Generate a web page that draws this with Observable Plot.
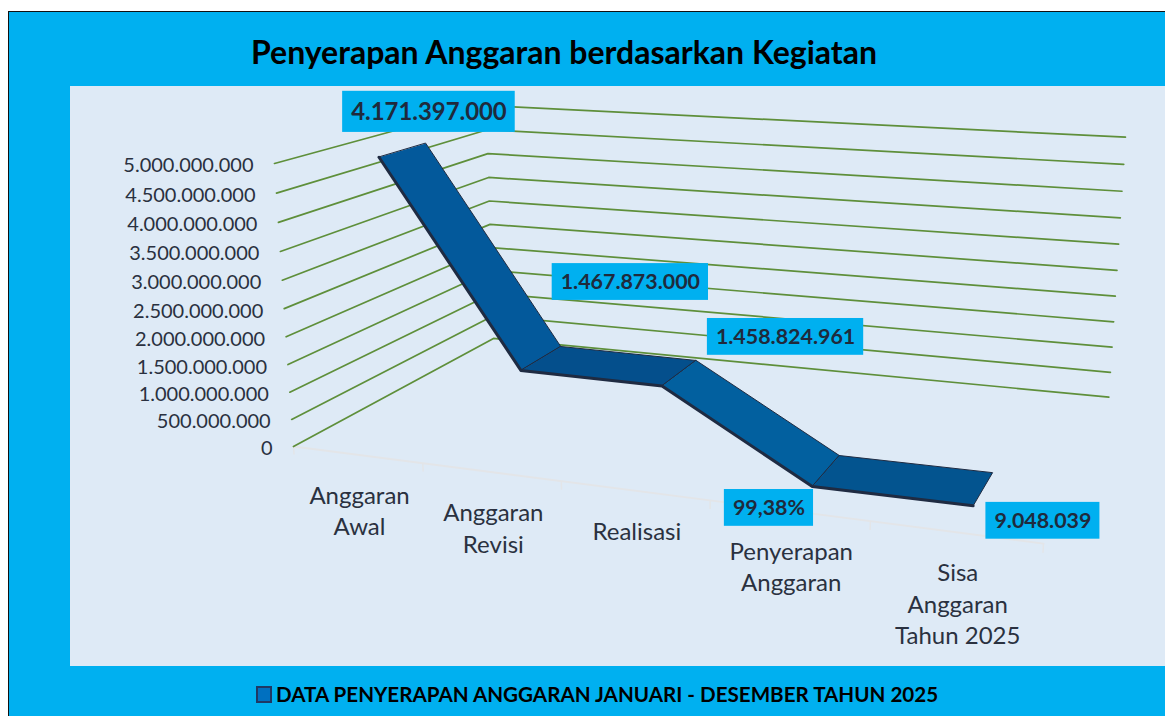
<!DOCTYPE html>
<html><head><meta charset="utf-8">
<script src="https://cdn.jsdelivr.net/npm/d3@7"></script>
<script src="https://cdn.jsdelivr.net/npm/@observablehq/plot@0.6"></script>
<style>
html,body{margin:0;padding:0;background:#fff;width:1165px;height:716px;overflow:hidden;font-family:Lato,sans-serif}
#frame{position:absolute;left:8px;top:11px;width:1157px;height:705px;background:#00B0F0;border-left:1.5px solid #111;border-top:1.5px solid #111;box-sizing:border-box}
#title{position:absolute;left:251px;top:30px;width:626px;text-align:center;font-weight:700;font-size:32px;line-height:44px;color:#000;white-space:nowrap}
#panel{position:absolute;left:70px;top:86px;width:1095px;height:580px;background:#DEEAF6}
#legend{position:absolute;left:256px;top:682px;height:24px;display:flex;align-items:center;white-space:nowrap;font-weight:700;font-size:20.6px;color:#000}
#legend i{display:block;width:12px;height:13px;background:#0070C0;border:2px solid #1F3864;margin-right:4px}
</style></head><body>
<div id="frame"></div>
<div id="title">Penyerapan Anggaran berdasarkan Kegiatan</div>
<div id="panel"></div>
<div id="legend"><i></i><span>DATA PENYERAPAN ANGGARAN JANUARI - DESEMBER TAHUN 2025</span></div>
<script>
// ---- data ----
const categories = ["Anggaran\nAwal", "Anggaran\nRevisi", "Realisasi", "Penyerapan\nAnggaran", "Sisa\nAnggaran\nTahun 2025"];
// heights as drawn: the first ribbon point sits at the top of the axis in the source
const plottedValues = [5000000000, 1467873000, 1458824961, 99.38, 9048039];
const dataLabels = ["4.171.397.000", "1.467.873.000", "1.458.824.961", "99,38%", "9.048.039"];
const yTicks = [0, 500000000, 1000000000, 1500000000, 2000000000, 2500000000, 3000000000, 3500000000, 4000000000, 4500000000, 5000000000];
const yTickLabels = ["0", "500.000.000", "1.000.000.000", "1.500.000.000", "2.000.000.000", "2.500.000.000", "3.000.000.000", "3.500.000.000", "4.000.000.000", "4.500.000.000", "5.000.000.000"];
const labelShift = [[29, -38.5], [92, -76.5], [109, -36.4], [-54.3, 36.8], [62.7, 31.5]];
const labelFont = [23.9, 21.4, 21.4, 21.4, 21.4];

// ---- oblique camera: category (u), depth (d) and value (v), all 0..1 ----
const yMax = 5000000000, n = categories.length;
const panelX = 70, panelY = 86;
function project(u, d, value) {
  const v = value / yMax;
  const w = 1 - 0.1669 * u + 0.2365 * d - 0.05 * v;
  const nx = 575.9 * u + 316.6 * d + 293 + v * (-32.7 - 5.5 * u - 0.3 * d);
  const ny = 6.4 * u - 28.1 * d + 446 + v * (-291.2 + 8.4 * u - 2.1 * d);
  return {x: nx / w - panelX, y: ny / w - panelY};
}
const center = i => (i + 0.5) / n;
const ribbonU = i => center(i) + 0.003;
const dFront = 0.15, dBack = 0.36, dMid = 0.25;

const grid = yTicks.flatMap(t => [[0, 0], [0, 1], [1, 1]].map(([u, d]) => ({t, ...project(u, d, t)})));
const yLab = yTicks.map((t, i) => ({...project(0, 0, t), text: yTickLabels[i]}));
const axisLine = [0, 1].map(u => project(u, 0, 0));
const axisTicks = d3.range(n + 1).map(i => {
  const a = project(i / n, 0, 0), b = project(i / n, 0, -150000000);
  return {x1: a.x, y1: a.y, x2: b.x, y2: b.y};
});
const catLab = categories.map((c, i) => ({...project(center(i), 0, 0), text: c}));
const segColors = ["#03599B", "#044F8C", "#02609F", "#03548F"];
const quads = d3.range(n - 1).flatMap(i => [
  [i, dFront], [i + 1, dFront], [i + 1, dBack], [i, dBack]
].map(([k, d]) => ({seg: i, ...project(ribbonU(k), d, plottedValues[k])})));
const frontEdge = plottedValues.map((p, i) => project(ribbonU(i), dFront, p));
const ctx = document.createElement("canvas").getContext("2d");
const boxes = dataLabels.map((text, i) => {
  const p = project(center(i), dMid, plottedValues[i]);
  const fs = labelFont[i];
  ctx.font = `700 ${fs}px Lato`;
  const cx = p.x + labelShift[i][0], cy = p.y + labelShift[i][1];
  const hw = ctx.measureText(text).width / 2 + 8.5, hh = fs * 0.86;
  return {text, fs, cx, cy, x1: cx - hw, x2: cx + hw, y1: cy - hh, y2: cy + hh};
});

const chart = Plot.plot({
  width: 1095, height: 580, margin: 0,
  x: {type: "identity", axis: null}, y: {type: "identity", axis: null},
  style: {background: "transparent", fontFamily: "Lato, sans-serif"},
  marks: [
    Plot.line(axisLine, {x: "x", y: "y", stroke: "#E3E5E8", strokeWidth: 1.8}),
    Plot.link(axisTicks, {x1: "x1", y1: "y1", x2: "x2", y2: "y2", stroke: "#E3E5E8", strokeWidth: 1.5}),
    Plot.line(grid, {x: "x", y: "y", z: "t", stroke: "#5E8F3A", strokeWidth: 1.7}),
    Plot.text(yLab, {x: "x", y: "y", text: "text", textAnchor: "end", dx: -21, dy: 2.5, fontSize: 20, fill: "#2A3140"}),
    Plot.text(catLab, {x: "x", y: "y", text: "text", lineAnchor: "top", dx: 2.5, dy: 27, fontSize: 24, lineHeight: 1.31, fill: "#2A3140"}),
    Plot.line(quads, {x: "x", y: "y", z: "seg", fill: d => segColors[d.seg], stroke: "#1F2B42", strokeWidth: 1, curve: "linear-closed"}),
    Plot.line(frontEdge, {x: "x", y: "y", stroke: "#1F2B42", strokeWidth: 3}),
    Plot.rect(boxes, {x1: "x1", x2: "x2", y1: "y1", y2: "y2", fill: "#00B0F0"}),
    ...[23.9, 21.4].map(fs => Plot.text(boxes.filter(b => b.fs === fs), {x: "cx", y: "cy", text: "text", fontSize: fs, fontWeight: 700, fill: "#1F2A3C"}))
  ]
});
document.getElementById("panel").appendChild(chart);
</script>
</body></html>
